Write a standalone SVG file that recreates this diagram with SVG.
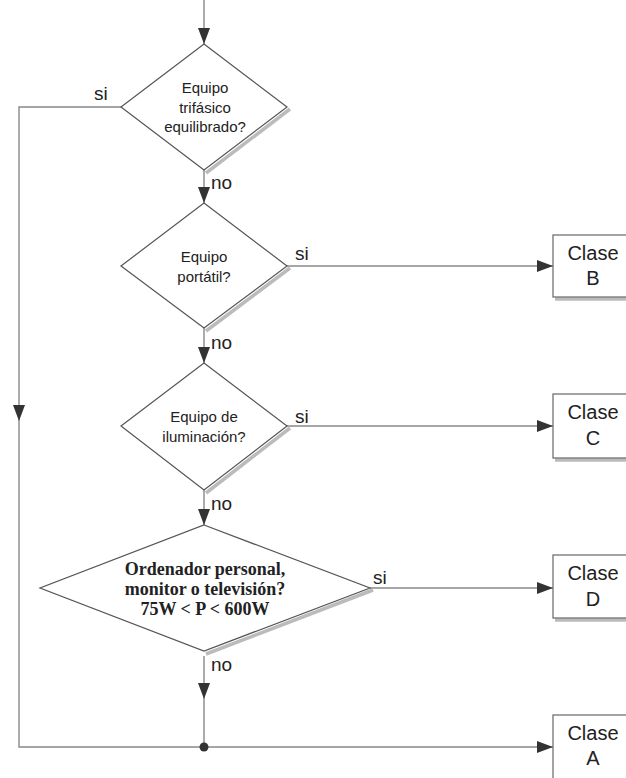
<svg xmlns="http://www.w3.org/2000/svg" width="626" height="778" viewBox="0 0 626 778">
<defs>
<marker id="arr" markerWidth="16" markerHeight="12" refX="16" refY="6" orient="auto" markerUnits="userSpaceOnUse">
<path d="M0,0 L16,6 L0,12 Z" fill="#333"/>
</marker>
<style>
.ln{fill:none;stroke:#888;stroke-width:1.4}
.dm{fill:#fff;stroke:#555;stroke-width:1.2}
.sh{fill:none;stroke:#bbb;stroke-width:3.5}
.bx{fill:#fff;stroke:#666;stroke-width:1.2}
.t{font-family:"Liberation Sans",Arial,sans-serif;font-size:15px;fill:#222;text-anchor:middle}
.ts{font-family:"Liberation Serif","Times New Roman",serif;font-size:18px;font-weight:bold;fill:#222;text-anchor:middle}
.lb{font-family:"Liberation Sans",Arial,sans-serif;font-size:19px;fill:#222}
.c{font-family:"Liberation Sans",Arial,sans-serif;font-size:20px;fill:#222;text-anchor:middle}
</style>
</defs>
<rect width="626" height="778" fill="#fff"/>
<g id="connectors">
<line class="ln" x1="204" y1="0" x2="204" y2="44" marker-end="url(#arr)"/>
<line class="ln" x1="204" y1="170" x2="204" y2="203" marker-end="url(#arr)"/>
<line class="ln" x1="204" y1="328" x2="204" y2="363" marker-end="url(#arr)"/>
<line class="ln" x1="204" y1="490" x2="204" y2="525" marker-end="url(#arr)"/>
<line class="ln" x1="204" y1="656" x2="204" y2="699" marker-end="url(#arr)"/>
<line class="ln" x1="204" y1="699" x2="204" y2="747"/>
<polyline class="ln" points="121,107 19,107 19,421" marker-end="url(#arr)"/>
<polyline class="ln" points="19,421 19,747 553,747" marker-end="url(#arr)"/>
<line class="ln" x1="287" y1="266" x2="553" y2="266" marker-end="url(#arr)"/>
<line class="ln" x1="287" y1="426" x2="553" y2="426" marker-end="url(#arr)"/>
<line class="ln" x1="370" y1="588" x2="553" y2="588" marker-end="url(#arr)"/>
<circle cx="204" cy="747" r="4.5" fill="#333"/>
<text class="lb" x="94" y="100">si</text>
<text class="lb" x="211" y="189">no</text>
<text class="lb" x="295" y="260">si</text>
<text class="lb" x="211" y="349">no</text>
<text class="lb" x="295" y="423">si</text>
<text class="lb" x="211" y="510">no</text>
<text class="lb" x="373" y="584">si</text>
<text class="lb" x="211" y="671">no</text>
</g>
<g id="d1">
<polyline class="sh" points="290,109 206,173"/>
<polygon class="dm" points="204,44 287,107 204,170 121,107"/>
<text class="t" x="205" y="93">Equipo</text>
<text class="t" x="205" y="113">trifásico</text>
<text class="t" x="205" y="132">equilibrado?</text>
</g>
<g id="d2">
<polyline class="sh" points="290,268 206,331"/>
<polygon class="dm" points="204,203 287,266 204,328 121,266"/>
<text class="t" x="204" y="262">Equipo</text>
<text class="t" x="204" y="282">portátil?</text>
</g>
<g id="d3">
<polyline class="sh" points="290,428 206,493"/>
<polygon class="dm" points="204,363 287,426 204,490 121,426"/>
<text class="t" x="204" y="422">Equipo de</text>
<text class="t" x="204" y="442">iluminación?</text>
</g>
<g id="d4">
<polyline class="sh" points="373,590 206,654"/>
<polygon class="dm" points="204,525 370,588 204,651 40,588"/>
<text class="ts" x="205" y="575">Ordenador personal,</text>
<text class="ts" x="205" y="595">monitor o televisión?</text>
<text class="ts" x="205" y="615">75W &lt; P &lt; 600W</text>
</g>
<g id="clase-b">
<polyline class="sh" points="555,299 630,299"/>
<rect class="bx" x="553" y="235" width="80" height="62"/>
<text class="c" x="593" y="260">Clase</text>
<text class="c" x="593" y="285">B</text>
</g>
<g id="clase-c">
<polyline class="sh" points="555,460 630,460"/>
<rect class="bx" x="553" y="394" width="80" height="64"/>
<text class="c" x="593" y="419">Clase</text>
<text class="c" x="593" y="445">C</text>
</g>
<g id="clase-d">
<polyline class="sh" points="555,620 630,620"/>
<rect class="bx" x="553" y="555" width="80" height="63"/>
<text class="c" x="593" y="580">Clase</text>
<text class="c" x="593" y="606">D</text>
</g>
<g id="clase-a">
<rect class="bx" x="553" y="715" width="80" height="70"/>
<text class="c" x="593" y="740">Clase</text>
<text class="c" x="593" y="765">A</text>
</g>
</svg>
